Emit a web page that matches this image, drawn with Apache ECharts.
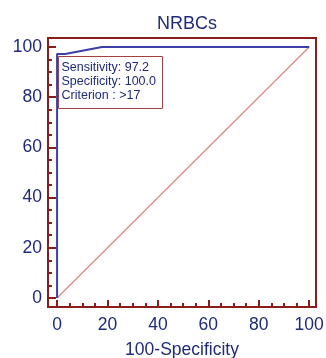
<!DOCTYPE html>
<html><head><meta charset="utf-8">
<script src="https://cdn.jsdelivr.net/npm/echarts@6/dist/echarts.min.js"></script>
<style>html,body{margin:0;padding:0;background:#fff}#c{width:326px;height:358px}</style>
</head><body><div id="c"></div>
<script>
var rocX = [0, 0, 3.2, 17.8, 100];
var rocY = [0, 97.2, 97.2, 100, 100];
var refX = [0, 100];
var refY = [0, 100];
var majorTicks = [0, 20, 40, 60, 80, 100];
var minorTicks = [5, 10, 15, 25, 30, 35, 45, 50, 55, 65, 70, 75, 85, 90, 95];
var legendLines = ['Sensitivity: 97.2', 'Specificity: 100.0', 'Criterion : >17'];

var NAVY = '#1f2a7a', RED = '#8b1c1c', BLUE = '#3b40a8', FONT = 'Liberation Sans, Arial, sans-serif';
function pairs(xs, ys){ return xs.map(function(x,i){return [x, ys[i]];}); }
var xr = {min: -3.6, max: 102.7}, yr = {min: -3.6, max: 103.6};

function mkAxis(r, major, isX){
  return {
    type: 'value', min: r.min, max: r.max,
    position: isX ? 'bottom' : 'left',
    axisLine: {show: false, onZero: false},
    splitLine: {show: false},
    axisTick: {show: true, inside: true, length: major ? (isX ? 7 : 8) : 4,
      customValues: major ? majorTicks : minorTicks,
      lineStyle: {color: RED, width: 2}},
    axisLabel: {show: major, customValues: majorTicks, color: NAVY, fontSize: 17.5, fontFamily: FONT,
      margin: isX ? 9 : 6},
    name: major && isX ? '100-Specificity' : '',
    nameLocation: 'middle', nameGap: 34,
    nameTextStyle: {color: NAVY, fontSize: 17.5, fontFamily: FONT}
  };
}

var chart = echarts.init(document.getElementById('c'));
chart.setOption({
  animation: false,
  title: {text: 'NRBCs', left: 182, top: 10, textAlign: 'center',
    textStyle: {color: NAVY, fontSize: 18, fontWeight: 'normal', fontFamily: FONT}},
  grid: {left: 48, right: 10, top: 38, bottom: 51, containLabel: false, outerBoundsMode: 'none',
    show: true, borderColor: RED, borderWidth: 2, backgroundColor: 'transparent'},
  xAxis: [mkAxis(xr, true, true), mkAxis(xr, false, true)],
  yAxis: [mkAxis(yr, true, false), mkAxis(yr, false, false)],
  series: [
    {type: 'line', data: pairs(refX, refY), symbol: 'none', silent: true,
      lineStyle: {color: 'rgb(228,130,130)', width: 1.2, opacity: 1}, z: 2},
    {type: 'line', data: pairs(rocX, rocY), symbol: 'none', lineStyle: {color: BLUE, width: 2}, z: 3}
  ],
  graphic: [{
    type: 'group', left: 58, top: 56, z: 10,
    children: [
      {type: 'rect', shape: {x: 0, y: 0, width: 104, height: 52},
        style: {fill: '#fff', stroke: '#a04040', lineWidth: 1}}
    ].concat(legendLines.map(function(t, i){
      return {type: 'text', x: 3, y: 5 + i * 14,
        style: {text: t, fill: NAVY, font: '12.5px ' + FONT}};
    }))
  }]
});
</script></body></html>
